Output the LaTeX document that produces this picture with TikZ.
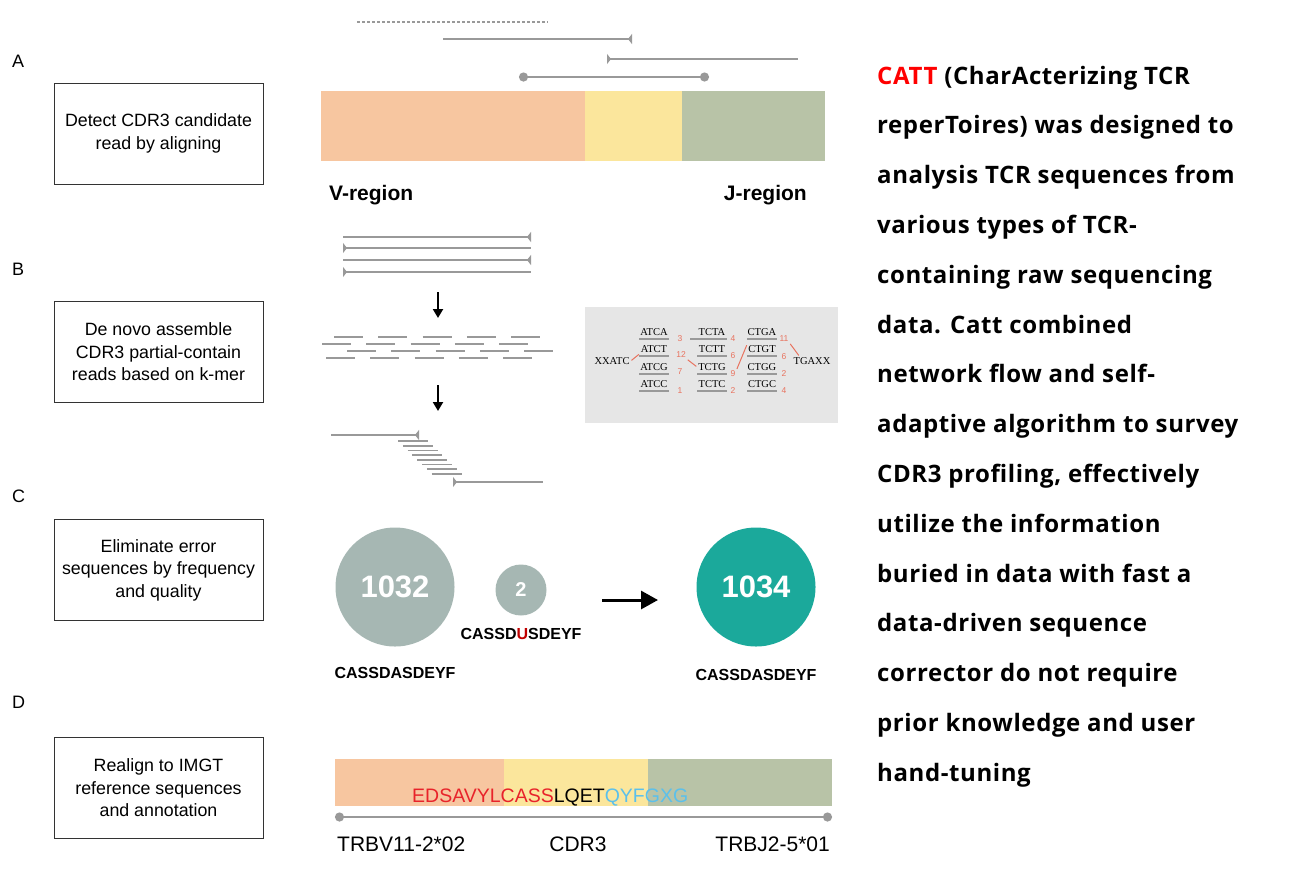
\documentclass[tikz,border=0pt]{standalone}
\usepackage{fontspec}
\setmainfont{Liberation Sans}
\newfontfamily\notefont[LetterSpace = 2.5]{Open Sans}
\newfontfamily\kmerfont{Liberation Serif}
\usetikzlibrary{arrows.meta}
\definecolor{vreg}{HTML}{F7C6A0}
\definecolor{cdrreg}{HTML}{FBE69C}
\definecolor{jreg}{HTML}{B8C3A7}
\definecolor{readgray}{HTML}{999999}
\definecolor{kmerbg}{HTML}{E6E6E6}
\definecolor{kmerred}{HTML}{E8735F}
\definecolor{oldclone}{HTML}{A6B7B3}
\definecolor{newclone}{HTML}{1BA99B}
\definecolor{seqred}{HTML}{E8232A}
\definecolor{seqblue}{HTML}{5BC0EB}
\definecolor{mutred}{HTML}{C00000}
\definecolor{cattred}{HTML}{FF0000}
\tikzset{
    stepbox/.style = {draw = black!80, line width = 1pt, minimum width = 209pt, minimum height = 101pt,
        align = center, font = \fontsize{17.8}{22.5}\selectfont},
    panel/.style = {anchor = base west, inner sep = 0pt, font = \fontsize{18}{20}\selectfont},
    read/.style = {draw = readgray, line width = 2.5pt},
    readend/.style = {-{Triangle[reversed, width = 10pt, length = 4pt]}},
    readstart/.style = {{Triangle[reversed, width = 10pt, length = 4pt]}-},
    kmer/.style = {inner sep = 1pt, font = \kmerfont\fontsize{10.5}{11}\selectfont},
    kcount/.style = {inner sep = 1pt, text = kmerred, font = \fontsize{8.5}{9}\selectfont},
    klink/.style = {draw = kmerred, line width = 1pt, shorten <= 1pt, shorten >= 1pt},
    clone/.style = {circle, inner sep = 0pt, text = white, font = \bfseries\fontsize{31}{31}\selectfont},
    cdrseq/.style = {inner sep = 0pt, font = \bfseries\fontsize{16}{16}\selectfont},
    genelabel/.style = {inner sep = 0pt, font = \fontsize{21}{21}\selectfont}
}
\begin{document}
\begin{tikzpicture}[x = 1pt, y = -1pt]
    \useasboundingbox (0,0) rectangle (1289,876);
    % left column
    \node[panel] (labA) at (12,67) {A};
    \node[panel] (labB) at (12,275) {B};
    \node[panel] (labC) at (12,502) {C};
    \node[panel] (labD) at (12,708) {D};
    \node[stepbox] (detect) at (158.5,133.5) {Detect CDR3 candidate\\read by aligning};
    \node[stepbox] (assemble) at (158.5,352) {De novo assemble\\CDR3 partial-contain\\reads based on k-mer};
    \node[stepbox] (eliminate) at (158.5,570) {Eliminate error\\sequences by frequency\\and quality};
    \node[stepbox] (realign) at (158.5,788) {Realign to IMGT\\reference sequences\\and annotation};

    % A: aligned reads
    \draw[read, dash pattern = on 2.5pt off 2.5pt] (357,22) -- (548,22);
    \draw[read, readend] (443,39) -- (632,39);
    \draw[read, readstart] (607,59) -- (798,59);
    \draw[read, {Circle[length = 9pt]}-{Circle[length = 9pt]}] (519,77) -- (709,77);
    \fill[vreg] (321,91) rectangle (585,161);
    \fill[cdrreg] (585,91) rectangle (682,161);
    \fill[jreg] (682,91) rectangle (825,161);
    \node[anchor = base west, inner sep = 0pt, font = \bfseries\fontsize{21}{21}\selectfont] (vname) at (329,200) {V-region};
    \node[anchor = base east, inner sep = 0pt, font = \bfseries\fontsize{21}{21}\selectfont] (jname) at (807,200) {J-region};

    % B: assembly
    \draw[read, readend] (343,237) -- (531,237);
    \draw[read, readstart] (343,248) -- (531,248);
    \draw[read, readend] (343,260) -- (531,260);
    \draw[read, readstart] (343,272) -- (531,272);
    \coordinate (split top) at (438,292);
    \coordinate (split bot) at (438,318);
    \draw[line width = 2pt, -{Triangle[width = 10pt, length = 9pt]}] (split top) -- (split bot);
    \foreach \y/\s in {337/334, 344/322, 351/347, 358/326}
        \foreach \i in {0, ..., 4}
            \draw[read] (\s+44.3*\i,\y) -- (\s+44.3*\i+29,\y);
    \coordinate (join top) at (438,385);
    \coordinate (join bot) at (438,411);
    \draw[line width = 2pt, -{Triangle[width = 10pt, length = 9pt]}] (join top) -- (join bot);
    \draw[read, readend] (331,435) -- (419,435);
    \foreach \i in {0, ..., 7}
        \draw[read, line width = 1.8pt] (398+4.8*\i,441+4.7*\i) -- (428+4.8*\i,441+4.7*\i);
    \draw[read, readstart] (453,482) -- (543,482);

    % B: k-mer graph
    \fill[kmerbg] (585,307) rectangle (838,423);
    \node[kmer] (xx) at (612,361) {XXATC};
    \node[kmer] (tg) at (812,361) {TGAXX};
    \foreach \w/\n/\x/\y in {ATCA/a1/654/332, ATCT/a2/654/349, ATCG/a3/654/367, ATCC/a4/654/384,
                             TCTA/t1/712/332, TCTT/t2/712/349, TCTG/t3/712/367, TCTC/t4/712/384,
                             CTGA/g1/762/332, CTGT/g2/762/349, CTGG/g3/762/367, CTGC/g4/762/384} {
        \node[kmer] (\n) at (\x,\y) {\w};
        \draw[draw = readgray, line width = 2pt] (\x-15,\y+7) -- (\x+15,\y+7);
    }
    \draw[draw = readgray, line width = 2pt] (690,339) -- (697,339);
    \foreach \c/\n/\x/\y in {3/na1/680/339, 12/na2/681/355, 7/na3/680/372, 1/na4/680/391,
                             4/nt1/733/339, 6/nt2/733/356, 9/nt3/733/374, 2/nt4/733/391,
                             11/ng1/784/339, 6/ng2/784/357, 2/ng3/784/374, 4/ng4/784/391}
        \node[kcount] (\n) at (\x,\y) {\c};
    \draw[klink] (xx.east) -- (a2.south west);
    \draw[klink] (na2.south east) -- (t3.west);
    \draw[klink] (nt3.north east) -- (g2.north west);
    \draw[klink] (ng1.south east) -- ([xshift = 7pt]tg.north west);

    % C: error elimination
    \node[clone, fill = oldclone, minimum size = 119pt] (major) at (395,587) {1032};
    \node[clone, fill = oldclone, minimum size = 51pt, font = \bfseries\fontsize{20}{20}\selectfont] (minor) at (521,590) {2};
    \node[clone, fill = newclone, minimum size = 119pt] (merged) at (756,587) {1034};
    \node[cdrseq] (major seq) at (395,673) {CASSDASDEYF};
    \node[cdrseq] (minor seq) at (521,634) {CASSD\textcolor{mutred}{U}SDEYF};
    \node[cdrseq] (merged seq) at (756,675) {CASSDASDEYF};
    \coordinate (merge from) at (602,600);
    \coordinate (merge to) at (658,600);
    \draw[line width = 3pt, -{Triangle[width = 18pt, length = 17pt]}] (merge from) -- (merge to);

    % D: annotation
    \fill[vreg] (335,759) rectangle (504,806);
    \fill[cdrreg] (504,759) rectangle (648,806);
    \fill[jreg] (648,759) rectangle (832,806);
    \node[anchor = base west, inner sep = 0pt, font = \fontsize{19.5}{20}\selectfont] (cdr3 aa) at (412,802)
        {\textcolor{seqred}{EDSAVYLCASS}LQET\textcolor{seqblue}{QYFGXG}};
    \coordinate (gene start) at (335,817);
    \coordinate (gene end) at (832,817);
    \draw[read, {Circle[length = 9pt]}-{Circle[length = 9pt]}] (gene start) -- (gene end);
    \node[genelabel, anchor = base west] (vgene) at (337,851) {TRBV11-2*02};
    \node[genelabel, anchor = base] (cdr3) at (578,851) {CDR3};
    \node[genelabel, anchor = base east] (jgene) at (830,851) {TRBJ2-5*01};

    % summary
    \foreach \txt [count = \i from 0] in {{\textcolor{cattred}{CATT} (CharActerizing TCR},
            {reperToires) was designed to}, {analysis TCR sequences from}, {various types of TCR-},
            {containing raw sequencing}, {data. Catt combined}, {network flow and self-},
            {adaptive algorithm to survey}, {CDR3 profiling, effectively}, {utilize the information},
            {buried in data with fast a}, {data-driven sequence}, {corrector do not require},
            {prior knowledge and user}, {hand-tuning}}
        \node[anchor = base west, inner sep = 0pt, font = \notefont\bfseries\fontsize{24}{24}\selectfont] (note\i) at (877,84+49.8*\i) {\txt};
\end{tikzpicture}
\end{document}
